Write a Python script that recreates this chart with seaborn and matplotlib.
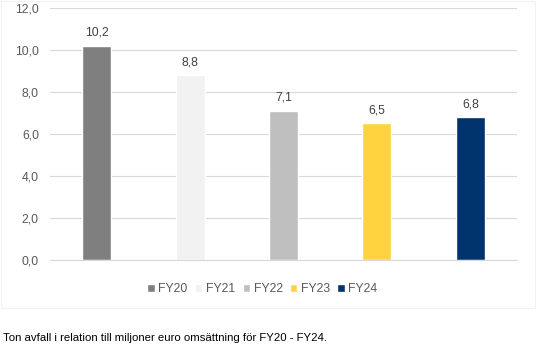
import matplotlib
matplotlib.use('Agg')

import seaborn as sns
import matplotlib.pyplot as plt
import pandas as pd
from matplotlib.patches import Rectangle

# --- Data ---
years = ['FY20', 'FY21', 'FY22', 'FY23', 'FY24']
values = [10.2, 8.8, 7.1, 6.5, 6.8]
colors = ['#7f7f7f', '#f2f2f2', '#bfbfbf', '#ffd340', '#00336b']
yticks = [0, 2, 4, 6, 8, 10, 12]
caption = "Ton avfall i relation till miljoner euro omsättning för FY20 - FY24."

df = pd.DataFrame({'year': years, 'value': values})

sns.set_theme(style='white')
plt.rcParams['font.family'] = ['Liberation Sans', 'DejaVu Sans']
text_color = '#595959'

fig = plt.figure(figsize=(5.38, 3.52), dpi=100)
ax = fig.add_axes([0.093, 0.2614, 0.868, 0.716])

sns.barplot(data=df, x='year', y='value', hue='year', palette=colors,
            width=0.31, saturation=1, legend=True, ax=ax)

# data labels
for cont in ax.containers:
    ax.bar_label(cont, labels=[f"{v:.1f}".replace('.', ',') for v in cont.datavalues],
                 padding=5, fontsize=8.8, color='#404040')

ax.set_ylim(0, 12)
ax.set_yticks(yticks)
ax.set_yticklabels([f"{t:.1f}".replace('.', ',') for t in yticks], fontsize=8.8, color=text_color)
ax.set_xticks([])
ax.set_xlabel('')
ax.set_ylabel('')
ax.yaxis.grid(True, color='#d9d9d9', linewidth=0.8)
ax.set_axisbelow(True)
ax.tick_params(axis='y', length=0, pad=8)
for side in ['top', 'right', 'left']:
    ax.spines[side].set_visible(False)
ax.spines['bottom'].set_color('#d9d9d9')
ax.spines['bottom'].set_linewidth(0.8)

sns.move_legend(ax, 'center', bbox_to_anchor=(0.455, -0.115), ncol=5, frameon=False,
                title=None, fontsize=8.8, handlelength=0.6, handleheight=0.6,
                handletextpad=0.3, columnspacing=0.6, labelcolor=text_color)

# faint chart border
fig.patches.append(Rectangle((0.002, 0.125), 0.993, 0.872, transform=fig.transFigure,
                             fill=False, edgecolor='#f2f2f2', linewidth=0.8))

fig.text(0.006, 0.04, caption, fontsize=8.2, color='black', ha='left', va='center')

fig.savefig('out.png', dpi=100)
plt.close()
